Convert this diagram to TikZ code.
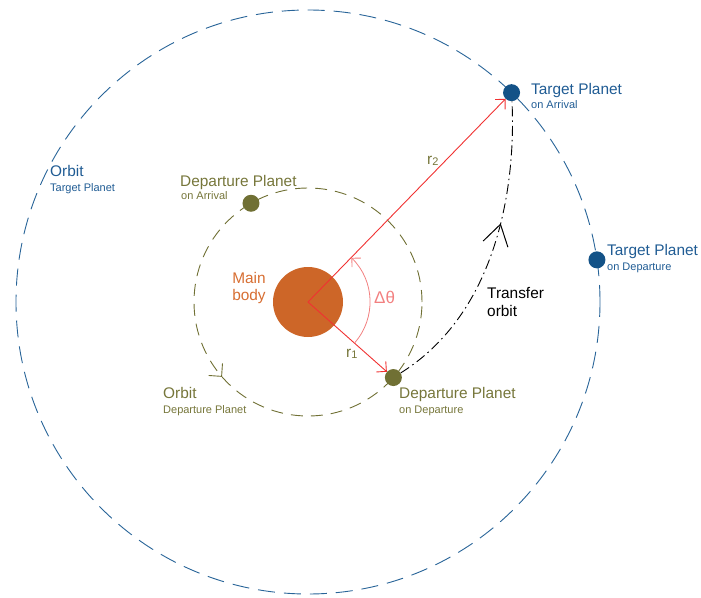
\documentclass[tikz,border=0pt]{standalone}
\usepackage{fontspec}
\setmainfont{Liberation Sans}
\usetikzlibrary{arrows.meta,decorations.markings}
\definecolor{olv}{RGB}{112,112,52}
\definecolor{olvtext}{RGB}{118,118,58}
\definecolor{blu}{RGB}{32,92,148}
\definecolor{bluline}{RGB}{40,100,152}
\definecolor{bluplanet}{RGB}{19,82,135}
\definecolor{bodyc}{RGB}{205,102,40}
\definecolor{bodytext}{RGB}{215,110,50}
\definecolor{redl}{RGB}{240,50,50}
\definecolor{salmonc}{RGB}{242,128,128}
\newcommand{\bigtxt}{\fontsize{15.4}{18}\selectfont}
\newcommand{\smalltxt}{\fontsize{11}{13}\selectfont}
\newcommand{\subtxt}[1]{\raisebox{-1pt}{\fontsize{11}{11}\selectfont #1}}
\begin{document}
\begin{tikzpicture}[x=1pt,y=1pt,
  lbl/.style={anchor=base west, inner sep=0pt},
  bigl/.style={lbl, font=\bigtxt},
  smalll/.style={lbl, font=\smalltxt},
  planet/.style={circle, inner sep=0pt, minimum size=17pt},
  orbitline/.style={line width=0.9pt},
  redarrow/.style={redl, line width=0.9pt, -{Straight Barb[angle=90:10pt]}},
]
\useasboundingbox (-308,-295) rectangle (393,302);

% orbits
\draw[bluline, orbitline, dash pattern=on 17pt off 9pt] (0,0) circle[radius=292];
\draw[olv, orbitline, dash pattern=on 12pt off 8pt,
  postaction={decorate},
  decoration={markings, mark=at position 0.614 with {\arrow[olv, line width=0.9pt]{Straight Barb[angle=90:13pt]}}}]
  (0,0) circle[radius=114];

% main body
\node[circle, fill=bodyc, minimum size=70pt, inner sep=0pt] (body) at (0,0) {};
\coordinate (O) at (0,0);

% planets
\node[planet, fill=olv] (dep1) at (-41.5:114) {};
\node[planet, fill=olv] (dep2) at (120:114) {};
\node[planet, fill=bluplanet] (tgt1) at (8.3:292) {};
\node[planet, fill=bluplanet] (tgt2) at (45.8:292) {};

% radius vectors
\draw[redarrow] (O) -- (dep1);
\draw[redarrow] (O) -- (tgt2);

% delta theta arc
\draw[salmonc, line width=0.8pt, -{Straight Barb[angle=90:9pt]}]
  (-41:62) arc[start angle=-41, end angle=45.5, radius=62];

% transfer orbit
\draw[black, line width=0.9pt, dash pattern=on 10pt off 4pt on 1.5pt off 4pt,
  postaction={decorate},
  decoration={markings, mark=at position 0.6 with {\arrow[black, line width=1pt]{Straight Barb[angle=64:24pt]}}}]
  (dep1) .. controls (190,-10) and (208,117) .. (tgt2);

% labels
\node[bigl, blu] (orbT1) at (-258,125) {Orbit};
\node[smalll, blu] (orbT2) at (-258,110) {Target Planet};
\node[bigl, olvtext] (depA1) at (-128,115) {Departure Planet};
\node[smalll, olvtext] (depA2) at (-127,102) {on Arrival};
\node[anchor=base, inner sep=0pt, font=\bigtxt, bodytext] (mb1) at (-59,19) {Main};
\node[anchor=base, inner sep=0pt, font=\bigtxt, bodytext] (mb2) at (-59,2) {body};
\node[bigl, salmonc, font=\fontsize{17}{20}\selectfont] (dth) at (66,-1) {Δθ};
\node[bigl, olvtext] (r1) at (38,-55) {r\subtxt{1}};
\node[bigl, olvtext] (r2) at (119,137) {r\subtxt{2}};
\node[bigl, black] (tr1) at (179,4) {Transfer};
\node[bigl, black] (tr2) at (179,-14) {orbit};
\node[bigl, olvtext] (orbD1) at (-145,-96) {Orbit};
\node[smalll, olvtext] (orbD2) at (-145,-111) {Departure Planet};
\node[bigl, olvtext] (depD1) at (91,-96) {Departure Planet};
\node[smalll, olvtext] (depD2) at (91,-111) {on Departure};
\node[bigl, blu] (tgA1) at (223,207) {Target Planet};
\node[smalll, blu] (tgA2) at (223,193) {on Arrival};
\node[bigl, blu] (tgD1) at (299,46) {Target Planet};
\node[smalll, blu] (tgD2) at (299,32) {on Departure};
\end{tikzpicture}
\end{document}
